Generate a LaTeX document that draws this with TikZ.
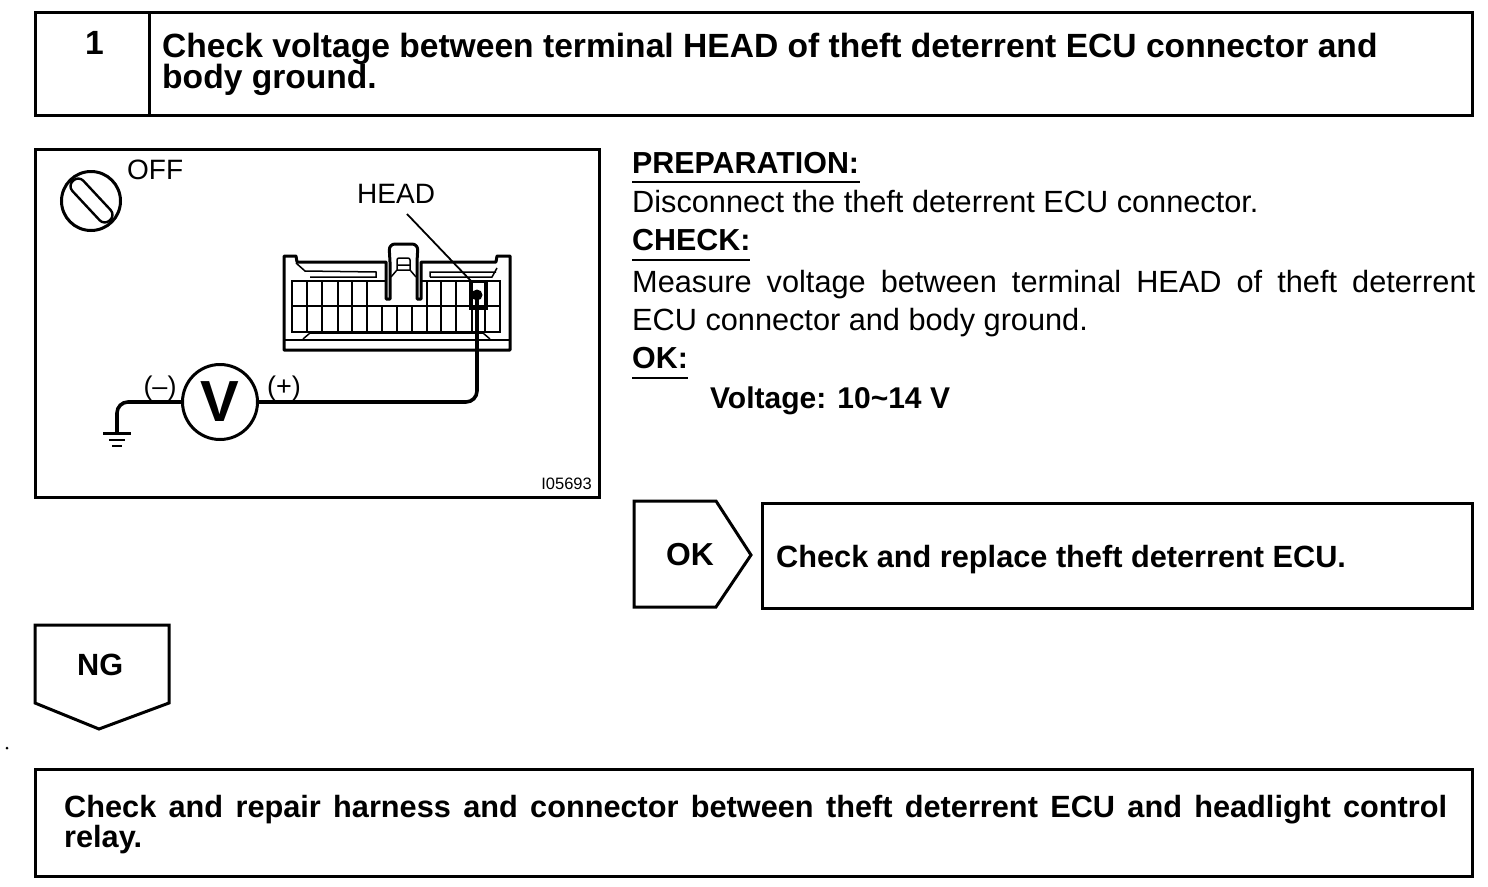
\documentclass[tikz,border=0pt]{standalone}
\usepackage{fontspec}
\setmainfont{Liberation Sans}
\newcommand{\fs}[1]{\fontsize{#1}{#1}\selectfont}
\tikzset{
  x=1pt,y=-1pt,
  frame/.style={draw=black,line width=3pt,fill=white,line join=miter},
  bt/.style={anchor=base west,inner sep=0pt,font=\fs{33.6}\bfseries},
  bs/.style={anchor=base west,inner sep=0pt,font=\fs{30.7}\bfseries},
  rt/.style={anchor=base west,inner sep=0pt,font=\fs{30.7}},
  head/.style={anchor=base west,inner sep=0pt,font=\fs{30.4}\bfseries},
  lab/.style={anchor=base west,inner sep=0pt,font=\fs{28}},
  wire/.style={draw=black,line width=3.6pt,rounded corners=11pt},
  thin/.style={draw=black,line width=1.5pt},
  conn/.style={draw=black,line width=3pt,line join=round},
}
\begin{document}
\begin{tikzpicture}
\useasboundingbox (0,0) rectangle (1488,886);
\fill[white] (0,0) rectangle (1488,886);
% title
\path[frame] (35,12) rectangle (1472.5,115);
\draw[line width=3pt] (149,12) -- (149,115);
\node[bt] (num) at (85,54) {1};
\node[bt] (t1) at (162,57) {Check voltage between terminal HEAD of theft deterrent ECU connector and};
\node[bt] (t2) at (162,88) {body ground.};
% figure frame
\path[frame] (35,149) rectangle (599.5,497);
\node[draw,circle,line width=3pt,minimum size=59pt,inner sep=0pt] (key) at (91,201) {};
\draw[line width=2.4pt,rounded corners=7pt,rotate around={-47:(91.5,200.5)}] (64.5,193) rectangle (118.5,208);
\node[lab] (off) at (127,179) {OFF};
\node[lab] (headlab) at (357,203) {HEAD};
% connector body
\draw[conn] (284,350) -- (284,256) -- (296,256) -- (297,262) -- (386,262) -- (386,299) -- (390,299) -- (390,262) [rounded corners=6pt] -- (389,244) -- (418,244) [sharp corners] -- (417,262) -- (417,299) -- (421,299) -- (421,262) -- (496,262) -- (497,256) -- (510,256) -- (510,350) -- cycle;
\draw[line width=2.2pt] (284,340) -- (510,340);
% top accents
\draw[thin] (296,263) -- (305,271) -- (376,272) -- (376,277) -- (310,277);
\draw[thin] (430,277) -- (430,272) -- (496,272) (430,277) -- (492,277) -- (497,268);
% bottom accent
\draw[thin] (303,339) -- (310,333) -- (483,333) -- (490,339);
% latch window
\draw[thin,rounded corners=2pt] (397,270) -- (397,258) -- (410,258) -- (410,270);
\draw[thin] (397,265) -- (410,265) (397,270) -- (410,270) (397,270) -- (391,277) (410,270) -- (416,277);
% cell grid
\draw[thin] (386,281) -- (292,281) -- (292,332) -- (500,332) -- (500,281) -- (421,281);
\draw[thin] (292,306) -- (500,306);
\foreach \xx in {307,322,338,352,367,427,441,456,472,485} \draw[thin] (\xx,281) -- (\xx,332);
\foreach \xx in {382,397,412} \draw[thin] (\xx,306) -- (\xx,332);
\draw[line width=3pt] (470.5,281) rectangle (486,308);
\node[circle,fill=black,inner sep=0pt,minimum size=11pt] (pin) at (477,295) {};
\coordinate (leadend) at (407,214);
\coordinate (leadtip) at (471,281);
\draw[line width=1.8pt] (leadend) -- (leadtip);
% voltmeter
\node[draw,circle,line width=3pt,minimum size=75pt,inner sep=0pt,font=\fs{58}\bfseries] (vm) at (220,402) {V};
\coordinate (gnd) at (117,432);
\draw[wire] (vm.west) -- (117,402) -- (gnd);
\draw[wire] (vm.east) -- (477,402) -- (pin.center);
\draw[line width=3pt] (103,433) -- (131,433);
\draw[line width=2.2pt] (109,440) -- (125,440);
\draw[line width=2.2pt] (112,446) -- (122,446);
\node[anchor=base,inner sep=0pt,font=\fs{27}] (minus) at (160,395) {(--)};
\node[anchor=base,inner sep=0pt,font=\fs{27}] (plus) at (284,395) {(+)};
\node[anchor=base east,inner sep=0pt,font=\fs{16.5}] (code) at (592,489) {I05693};
% right text
\node[head] (prep) at (632,173) {PREPARATION:};
\draw[line width=1.3pt] (632,182) -- (860,182);
\node[rt] (p1) at (632,212) {Disconnect the theft deterrent ECU connector.};
\node[head] (chk) at (632,250) {CHECK:};
\draw[line width=1.3pt] (632,260) -- (750,260);
\node[rt] (c1) at (632,292) {\makebox[843pt][s]{Measure voltage between terminal HEAD of theft deterrent}};
\node[rt] (c2) at (632,330) {ECU connector and body ground.};
\node[head] (ok) at (632,368) {OK:};
\draw[line width=1.3pt] (632,378) -- (688,378);
\node[anchor=base west,inner sep=0pt,font=\fs{30}\bfseries] (v) at (710,408) {Voltage: 10\textasciitilde14 V};
% OK
\path[frame] (634,501) -- (716,501) -- (751,555) -- (716,607) -- (634,607) -- cycle;
\node[anchor=base west,inner sep=0pt,font=\fs{31.8}\bfseries] (oktag) at (666,565) {OK};
\path[frame] (762,503) rectangle (1472.5,608);
\node[bs] (okt) at (776,567) {Check and replace theft deterrent ECU.};
% NG
\path[frame] (35,625) -- (169,625) -- (169,703) -- (99,729) -- (35,703) -- cycle;
\node[bs] (ng) at (77,675) {NG};
\fill (7,748) circle (1.5pt);
% bottom
\path[frame] (35,769) rectangle (1472.5,876);
\node[bs] (b1) at (64,817) {\makebox[1383pt][s]{Check and repair harness and connector between theft deterrent ECU and headlight control}};
\node[bs] (b2) at (64,847) {relay.};
\end{tikzpicture}
\end{document}
